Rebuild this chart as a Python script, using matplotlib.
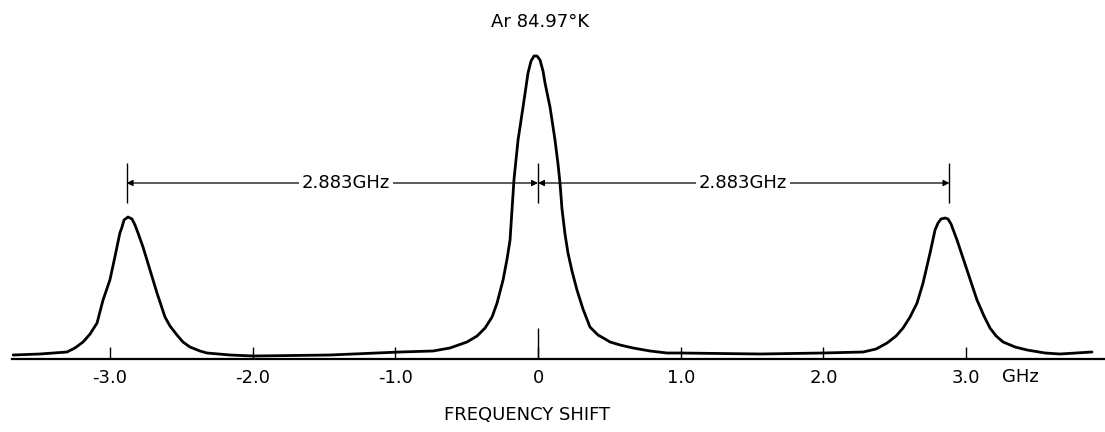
import matplotlib
matplotlib.use("Agg")
import matplotlib.pyplot as plt
from matplotlib.transforms import blended_transform_factory

# Brillouin spectrum of liquid argon: frequency shift (GHz) vs. recorder trace height
freq = [-3.679, -3.490, -3.301, -3.245, -3.188, -3.139, -3.090, -3.070, -3.048,
        -3.000, -2.965, -2.930, -2.915, -2.901, -2.873, -2.845, -2.824, -2.803,
        -2.768, -2.719, -2.670, -2.614, -2.579, -2.530, -2.488, -2.439, -2.369,
        -2.320, -2.158, -1.997, -1.458, -0.967,
        -0.736, -0.617, -0.498, -0.427, -0.371, -0.322, -0.287, -0.245, -0.217,
        -0.196, -0.182, -0.168, -0.140, -0.105, -0.070, -0.049, -0.028, -0.007,
        0.014, 0.035, 0.049, 0.084, 0.119, 0.140, 0.154, 0.168, 0.189, 0.210,
        0.238, 0.273, 0.315, 0.364, 0.420, 0.470, 0.505, 0.575, 0.666, 0.785,
        0.904, 0.995, 1.556, 1.997,
        2.278, 2.369, 2.446, 2.509, 2.558, 2.607, 2.656, 2.698, 2.747, 2.782,
        2.803, 2.824, 2.852, 2.873, 2.894, 2.936, 3.006, 3.076, 3.125, 3.167,
        3.210, 3.259, 3.343, 3.427, 3.553, 3.658, 3.882]
intensity = [4, 5, 7, 11, 17, 25, 36, 47, 59,
             79, 102, 126, 132, 139, 142, 140, 134, 126,
             112, 89, 66, 42, 33, 24, 17, 12, 8,
             6, 4, 3, 4, 7,
             8, 11, 17, 23, 31, 42, 56, 79, 100,
             119, 150, 180, 219, 252, 286, 298, 303, 303,
             299, 288, 276, 252, 219, 195, 176, 150, 125, 106,
             88, 69, 50, 32, 24, 20, 17, 14, 11, 8,
             6, 6, 5, 6,
             7, 10, 16, 23, 31, 42, 56, 76, 106, 129,
             136, 140, 141, 140, 135, 119, 89, 59, 43, 31,
             23, 17, 12, 9, 6, 5, 7]

tick_values = [-3.0, -2.0, -1.0, 0.0, 1.0, 2.0, 3.0]
tick_labels = ["-3.0", "-2.0", "-1.0", "0", "1.0", "2.0", "3.0"]

shift = 2.883
shift_label = "2.883GHz"
title = "Ar 84.97\u00b0K"
xlabel = "FREQUENCY SHIFT"

plt.rcParams["font.family"] = ["DejaVu Sans"]

fig = plt.figure(figsize=(11.05, 4.32), dpi=100)
ax = fig.add_axes([12 / 1105, 1 - 359 / 432, 1093 / 1105, 359 / 432])
ax.set_xlim(-3.686, 3.973)
ax.set_ylim(0, 359)

ax.plot(freq, intensity, color="black", lw=2.0,
        solid_joinstyle="round", solid_capstyle="round")

for s in ["top", "left", "right"]:
    ax.spines[s].set_visible(False)
ax.spines["bottom"].set_linewidth(1.6)
ax.set_yticks([])
ax.set_xticks(tick_values)
ax.set_xticklabels(tick_labels)
ax.tick_params(axis="x", direction="in", length=9, width=1.0, pad=7,
               labelsize=13, colors="black")

# longer centre mark at zero shift
ax.vlines(0, 0, 31, color="black", lw=1.0)

# dimension markers for the Brillouin doublet spacing
y_dim = 176
for xm in (-shift, 0, shift):
    ax.vlines(xm, 156, 196, color="black", lw=1.0)
label_x = (-1.345, 1.437)
for (x0, x1), xt in zip(((-shift, 0), (0, shift)), label_x):
    ax.annotate("", xy=(x1, y_dim), xytext=(x0, y_dim),
                arrowprops=dict(arrowstyle="<|-|>", lw=0.9, color="black",
                                mutation_scale=9, shrinkA=0, shrinkB=0))
    ax.text(xt, y_dim, shift_label, ha="center", va="center", fontsize=13,
            bbox=dict(facecolor="white", edgecolor="none", pad=2))

trans = blended_transform_factory(ax.transData, ax.transAxes)
ax.text(3.38, -0.05, "GHz", transform=trans, ha="center", va="center", fontsize=13)

fig.text(540 / 1105, 1 - 22 / 432, title, ha="center", va="center", fontsize=13)
fig.text(527 / 1105, 1 - 415 / 432, xlabel, ha="center", va="center", fontsize=13)

fig.savefig("out.png", dpi=100, facecolor="white")
